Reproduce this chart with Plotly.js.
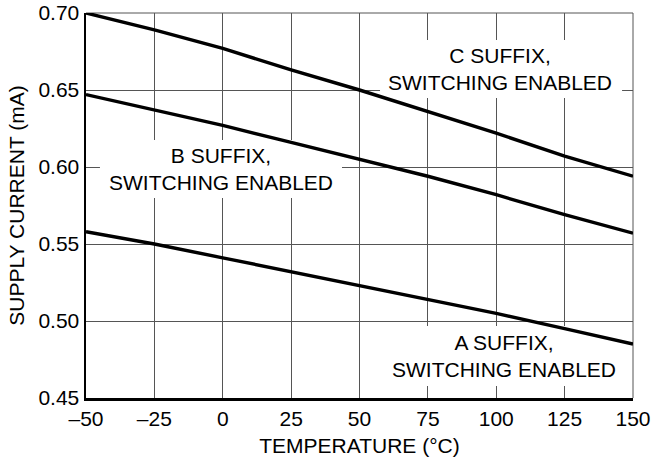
<!DOCTYPE html>
<html>
<head>
<meta charset="utf-8">
<script src="https://cdn.plot.ly/plotly-3.0.1.min.js"></script>
<style>html,body{margin:0;padding:0;background:#fff;}#chart{width:652px;height:463px;}</style>
</head>
<body>
<div id="chart"></div>
<script>
const temperature = [-50, -25, 0, 25, 50, 75, 100, 125, 150];
const cSuffix = [0.700, 0.689, 0.677, 0.663, 0.650, 0.636, 0.622, 0.607, 0.594];
const bSuffix = [0.647, 0.637, 0.627, 0.616, 0.605, 0.594, 0.582, 0.569, 0.557];
const aSuffix = [0.558, 0.550, 0.541, 0.532, 0.523, 0.514, 0.505, 0.495, 0.485];
const xTicks = [-50, -25, 0, 25, 50, 75, 100, 125, 150];
const yTicks = [0.45, 0.50, 0.55, 0.60, 0.65, 0.70];
const labels = [
  {text: "C SUFFIX,<br>SWITCHING ENABLED", x: 101.5, y: 0.6636, box: [57.5, 146, 0.6448, 0.6825]},
  {text: "B SUFFIX,<br>SWITCHING ENABLED", x: -0.5, y: 0.5985, box: [-44.9, 43.6, 0.5799, 0.6175]},
  {text: "A SUFFIX,<br>SWITCHING ENABLED", x: 103, y: 0.4773, box: [59.3, 147.1, 0.4578, 0.4967]}
];

const font = {family: "Liberation Sans, Arial, sans-serif", size: 21, color: "#000"};
const lineStyle = {color: "#000", width: 3.4};
const traces = [cSuffix, bSuffix, aSuffix].map(v => ({
  x: temperature, y: v, mode: "lines", line: lineStyle, hoverinfo: "skip", showlegend: false
}));

const layout = {
  width: 652, height: 463,
  margin: {l: 86, r: 19, t: 13, b: 65, pad: 0},
  paper_bgcolor: "#fff", plot_bgcolor: "#fff",
  font: font,
  showlegend: false,
  xaxis: {
    range: [-50, 150], tickvals: xTicks, ticktext: xTicks.map(v => v < 0 ? "\u2013" + Math.abs(v) : String(v)),
    showgrid: true, gridcolor: "#555", gridwidth: 1,
    showline: true, linecolor: "#000", linewidth: 2.5,
    zeroline: false, ticks: "", ticklen: 0,
    tickfont: font,
    title: {text: "TEMPERATURE (\u00B0C)", font: font, standoff: 10}
  },
  yaxis: {
    range: [0.45, 0.70], tickvals: yTicks, ticktext: yTicks.map(v => v.toFixed(2)),
    showgrid: true, gridcolor: "#555", gridwidth: 1,
    showline: true, linecolor: "#000", linewidth: 2.5,
    zeroline: false, ticks: "", ticklen: 0,
    tickfont: font,
    title: {text: "SUPPLY CURRENT (mA)", font: font, standoff: 8}
  },
  shapes: [
    {type: "line", xref: "paper", yref: "paper", x0: 0, x1: 1, y0: 1, y1: 1, line: {color: "#555", width: 1}, layer: "below"},
    {type: "line", xref: "paper", yref: "paper", x0: 1, x1: 1, y0: 0, y1: 1, line: {color: "#555", width: 1}, layer: "below"}
  ].concat(labels.map(l => ({
    type: "rect", xref: "x", yref: "y", x0: l.box[0], x1: l.box[1], y0: l.box[2], y1: l.box[3],
    fillcolor: "#fff", line: {width: 0}, layer: "between"
  }))),
  annotations: labels.map(l => ({
    text: l.text, x: l.x, y: l.y, xref: "x", yref: "y", showarrow: false,
    font: font, align: "center"
  }))
};

Plotly.newPlot("chart", traces, layout, {staticPlot: true, displayModeBar: false});
</script>
</body>
</html>
